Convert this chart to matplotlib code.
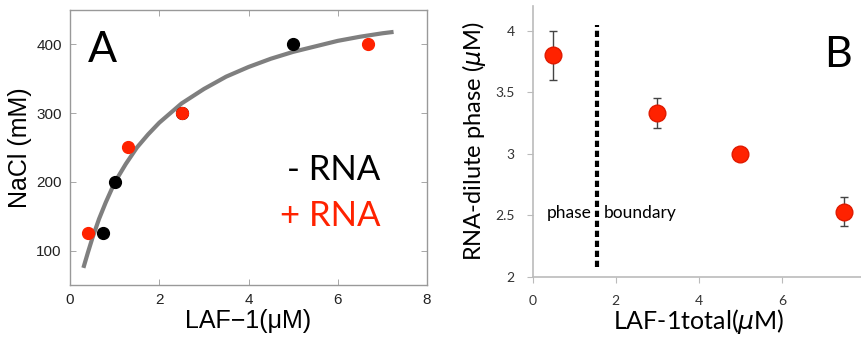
import numpy as np
import matplotlib
matplotlib.use('agg')
import matplotlib.pyplot as plt

# Panel A: NaCl vs LAF-1
a_minus_x = [0.75, 1.0, 2.5, 5.0]
a_minus_y = [125, 200, 300, 400]
a_plus_x = [0.4, 1.3, 2.5, 6.67]
a_plus_y = [125, 250, 300, 400]
fit_x = [0.3, 0.4, 0.5, 0.65, 0.8, 1.0, 1.25, 1.5, 1.75, 2.0, 2.5, 3.0,
         3.5, 4.0, 4.5, 5.0, 5.5, 6.0, 6.5, 7.0, 7.25]
fit_y = [75, 97, 118, 146, 170, 199, 226, 250, 269, 286, 314, 335,
         353, 367, 379, 389, 397, 405, 411, 416, 418]

# Panel B: RNA in dilute phase vs total LAF-1
b_x = [0.5, 3.0, 5.0, 7.5]
b_y = [3.8, 3.33, 3.0, 2.53]
b_err = [0.2, 0.12, 0.02, 0.115]
boundary_x = 1.55

RED = '#ff2200'
SANS = 'Liberation Sans'
GILL = 'Lato'

fig = plt.figure(figsize=(8.62, 3.41), dpi=100)

# ---- panel A ----
ax = fig.add_axes([0.0812, 0.164, 0.4142, 0.807])
ax.plot(fit_x, fit_y, color='#7f7f7f', lw=3, solid_capstyle='butt', zorder=2)
ax.plot(a_minus_x, a_minus_y, 'o', color='black', ms=8.5, zorder=3)
ax.plot(a_plus_x, a_plus_y, 'o', color=RED, ms=8.5, zorder=4)
ax.set_xlim(0, 8)
ax.set_ylim(50, 450)
ax.set_xticks([0, 2, 4, 6, 8])
ax.set_yticks([100, 200, 300, 400])
ax.tick_params(direction='in', top=True, right=True, length=4, width=0.6,
               color='#999999', labelsize=11, labelcolor='#222222', pad=6)
for lab in ax.get_xticklabels() + ax.get_yticklabels():
    lab.set_family(SANS)
for s in ax.spines.values():
    s.set_color('#999999')
    s.set_linewidth(1.0)
ax.set_xlabel('LAF\u22121(\u03bcM)', fontsize=18, family=SANS, labelpad=1)
ax.set_ylabel('NaCl (mM)', fontsize=18, family=SANS, labelpad=3)
ax.text(0.4, 392, 'A', fontsize=31, family=GILL, va='center', ha='left')
ax.text(6.95, 217, '- RNA', fontsize=25, family=GILL, color='black',
        va='center', ha='right')
ax.text(6.95, 150, '+ RNA', fontsize=25, family=GILL, color=RED,
        va='center', ha='right')

# ---- panel B ----
bx = fig.add_axes([0.618, 0.1886, 0.3855, 0.7935])
bx.axvline(boundary_x, ymin=0.035, ymax=0.93, color='black', lw=3,
           linestyle=(0, (1.5, 0.9)), zorder=1)
bx.errorbar(b_x, b_y, yerr=b_err, fmt='o', color=RED, ms=12,
            mec='#e01a00', ecolor='#444444', elinewidth=1, capsize=3,
            capthick=1, zorder=3)
bx.set_xlim(0, 8)
bx.set_ylim(2, 4.2)
bx.set_xticks([0, 2, 4, 6, 8])
bx.set_xticklabels(['0', '2', '4', '6', '8'])
bx.set_yticks([2, 2.5, 3, 3.5, 4])
bx.set_yticklabels(['2', '2.5', '3', '3.5', '4'])
bx.tick_params(direction='out', length=4, width=0.8, color='#bbbbbb',
               labelsize=10, labelcolor='#333333', pad=9)
for lab in bx.get_xticklabels() + bx.get_yticklabels():
    lab.set_family(GILL)
for side in ['top', 'right']:
    bx.spines[side].set_visible(False)
for side in ['left', 'bottom']:
    bx.spines[side].set_color('#bbbbbb')
    bx.spines[side].set_linewidth(1.2)
bx.set_xlabel('LAF-1total($\\mu$M)', fontsize=18, family=GILL, labelpad=0)
bx.set_ylabel('RNA-dilute phase ($\\mu$M)', fontsize=17, family=GILL,
              labelpad=5)
bx.text(0.33, 2.52, 'phase', fontsize=12.5, family=GILL, va='center',
        ha='left')
bx.text(1.72, 2.52, 'boundary', fontsize=12.5, family=GILL, va='center',
        ha='left')
bx.text(7.35, 3.8, 'B', fontsize=31, family=GILL, va='center', ha='center')

fig.savefig('out.png', dpi=100)
